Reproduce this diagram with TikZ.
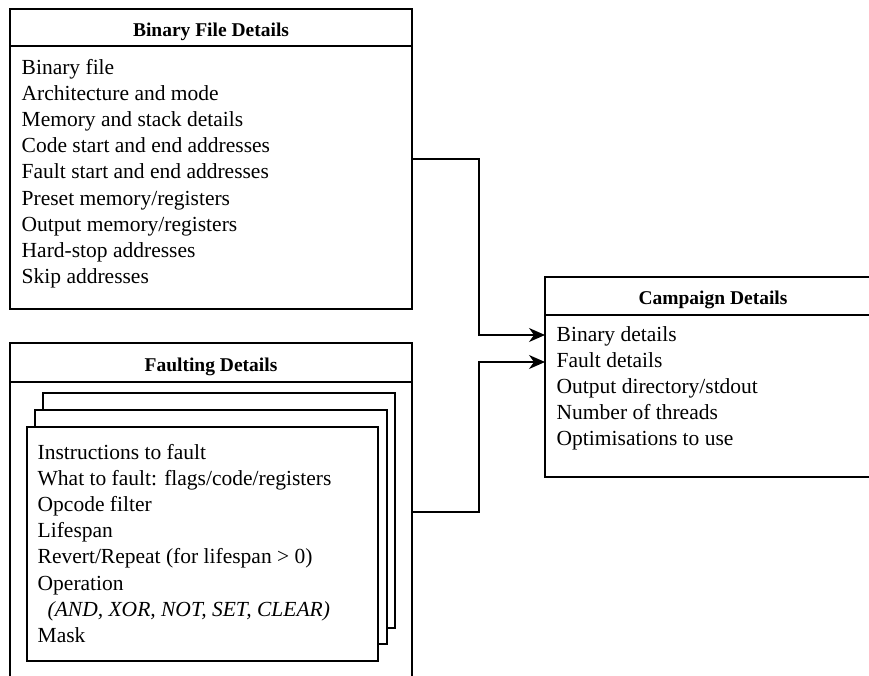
\documentclass[tikz,border=0pt]{standalone}
\usepackage{fontspec}
\setmainfont{Liberation Serif}
\usetikzlibrary{arrows.meta}
\begin{document}
\begin{tikzpicture}[x=1pt,y=-1pt, line width=1.4pt,
  box/.style={draw, rectangle, fill=white, inner sep=0pt, outer sep=0pt, anchor=north west},
  ttl/.style={font=\fontsize{19.5}{23}\selectfont\bfseries, anchor=base, inner sep=0pt},
  itm/.style={font=\fontsize{21.5}{26}\selectfont, anchor=base west, inner sep=0pt},
  arr/.style={-{Stealth[length=16pt,width=14pt,inset=5pt]}, line width=1.4pt}]
\useasboundingbox (0,0) rectangle (869,675);
\clip (0,0) rectangle (869,675);

% Binary File Details
\node[box, minimum width=402pt, minimum height=300pt] (bin) at (10,9) {};
\draw (10,46) -- (412,46);
\node[ttl] (bint) at (211,36) {Binary File Details};
\foreach \t [count=\i from 0] in {Binary file, Architecture and mode, Memory and stack details, Code start and end addresses, Fault start and end addresses, Preset memory/registers, Output memory/registers, Hard-stop addresses, Skip addresses}
  \node[itm] (bi\i) at (21,{74+26.2*\i}) {\t};

% Faulting Details
\node[box, minimum width=402pt, minimum height=338pt] (flt) at (10,343) {};
\draw (10,382) -- (412,382);
\node[ttl] (fltt) at (211,371) {Faulting Details};
\node[box, minimum width=352pt, minimum height=235pt] (c3) at (43,393) {};
\node[box, minimum width=352pt, minimum height=234pt] (c2) at (35,410) {};
\node[box, minimum width=351pt, minimum height=234pt] (c1) at (27,427) {};
\node[itm] (f0) at (37,459) {Instructions to fault};
\node[itm] (f1) at (37,485.2) {What to fault: flags/code/registers};
\node[itm] (f2) at (37,511.4) {Opcode filter};
\node[itm] (f3) at (37,537.6) {Lifespan};
\node[itm] (f4) at (37,563.8) {Revert/Repeat (for lifespan > 0)};
\node[itm] (f5) at (37,590) {Operation};
\node[itm, font=\fontsize{21.5}{26}\selectfont\itshape] (f6) at (47,616.2) {(AND, XOR, NOT, SET, CLEAR)};
\node[itm] (f7) at (37,642.4) {Mask};

% Campaign Details
\node[box, minimum width=336pt, minimum height=200pt] (camp) at (545,277) {};
\draw (545,315) -- (881,315);
\node[ttl] (campt) at (713,304) {Campaign Details};
\foreach \t [count=\i from 0] in {Binary details, Fault details, Output directory/stdout, Number of threads, Optimisations to use}
  \node[itm] (ca\i) at (556,{341.7+26*\i}) {\t};

% connectors
\coordinate (cb) at (545,335);
\coordinate (cf) at (545,362);
\draw[arr] (bin.east) -- ++(67,0) |- (cb);
\draw[arr] (flt.east) -- ++(67,0) |- (cf);
\end{tikzpicture}
\end{document}
